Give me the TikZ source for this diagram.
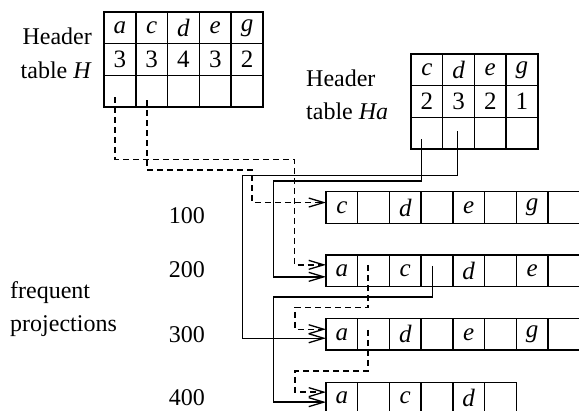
\documentclass[tikz,border=0pt]{standalone}
\usepackage{fontspec}
\setmainfont{Liberation Serif}
\usetikzlibrary{arrows.meta,calc}
\begin{document}
\begin{tikzpicture}[x=1pt,y=-1pt,
  cell/.style={draw, line width=1.4pt, minimum width=31.75pt, minimum height=31.7pt,
    inner sep=0pt, outer sep=0pt, anchor=north west, font=\fontsize{25}{25}\selectfont},
  icell/.style={cell, font=\fontsize{25}{25}\selectfont\itshape},
  lbl/.style={font=\fontsize{24}{24}\selectfont, inner sep=0pt},
  link/.style={line width=1.4pt, -{Straight Barb[length=15pt,width=9pt,line width=1.3pt]}},
  dlink/.style={link, dash pattern=on 6pt off 4pt}]
\useasboundingbox (0,0) rectangle (579,411);
\clip (0,0) rectangle (579,411);

% Header table H
\foreach \t [count=\i] in {a,c,d,e,g}
  \node[icell] (H-1-\i) at ({104+31.8*(\i-1)},12) {\t};
\foreach \t [count=\i] in {3,3,4,3,2}
  \node[cell] (H-2-\i) at ({104+31.8*(\i-1)},43.7) {\t};
\foreach \i in {1,...,5}
  \node[cell] (H-3-\i) at ({104+31.8*(\i-1)},75.4) {};
\node[lbl, anchor=base east] (hl1) at (92,45) {Header};
\node[lbl, anchor=base east] (hl2) at (92,78.3) {table \textit{H}};

% Header table Ha
\foreach \t [count=\i] in {c,d,e,g}
  \node[icell] (A-1-\i) at ({411+31.7*(\i-1)},54) {\t};
\foreach \t [count=\i] in {2,3,2,1}
  \node[cell] (A-2-\i) at ({411+31.7*(\i-1)},85.7) {\t};
\foreach \i in {1,...,4}
  \node[cell] (A-3-\i) at ({411+31.7*(\i-1)},117.4) {};
\node[lbl, anchor=base west] (al1) at (306,86.7) {Header};
\node[lbl, anchor=base west] (al2) at (306,120) {table \textit{Ha}};

% projection rows
\foreach \t [count=\i] in {c,{},d,{},e,{},g,{}}
  \node[icell] (R1-\i) at ({326+31.7*(\i-1)},191.7) {\t};
\foreach \t [count=\i] in {a,{},c,{},d,{},e,{}}
  \node[icell] (R2-\i) at ({326+31.7*(\i-1)},255) {\t};
\foreach \t [count=\i] in {a,{},d,{},e,{},g,{}}
  \node[icell] (R3-\i) at ({326+31.7*(\i-1)},318.4) {\t};
\foreach \t [count=\i] in {a,{},c,{},d,{}}
  \node[icell] (R4-\i) at ({326+31.7*(\i-1)},382.3) {\t};

\node[lbl, anchor=base east] (n1) at (205,223.3) {100};
\node[lbl, anchor=base east] (n2) at (205,277.3) {200};
\node[lbl, anchor=base east] (n3) at (205,342.7) {300};
\node[lbl, anchor=base east] (n4) at (205,406) {400};
\node[lbl, anchor=base west] (fp1) at (10,298.3) {frequent};
\node[lbl, anchor=base west] (fp2) at (10,331.7) {projections};

% connector start and end points
\coordinate (sH1) at ($(H-3-1.north west)+(11,22)$);
\coordinate (sH2) at ($(H-3-2.north west)+(11.2,25)$);
\coordinate (sA1) at ($(A-3-1.north west)+(10.7,22)$);
\coordinate (sA2) at ($(A-3-2.north west)+(14.8,14)$);
\coordinate (sR2) at ($(R2-2.north west)+(10.3,10)$);
\coordinate (sR2b) at ($(R2-4.north west)+(11.2,11)$);
\coordinate (sR3) at ($(R3-2.north west)+(10.3,11.5)$);

\coordinate (eR1d) at ($(R1-1.west)+(0,-5)$);
\coordinate (eR2d) at ($(R2-1.west)+(0,-6)$);
\coordinate (eR2s) at ($(R2-1.west)+(0,6)$);
\coordinate (eR3d) at ($(R3-1.west)+(0,-5)$);
\coordinate (eR3s) at ($(R3-1.west)+(0,4)$);
\coordinate (eR4d) at ($(R4-1.west)+(0,-6)$);
\coordinate (eR4s) at ($(R4-1.west)+(0,4)$);

\coordinate (b1) at (294.5,159.3);
\coordinate (b2) at (252,170);
\coordinate (b3) at (273.3,181);
\coordinate (b4) at (242.3,175.7);
\coordinate (b5) at (295,307.5);
\coordinate (b6) at (273.3,297);
\coordinate (b7) at (295,371);

% connectors
\draw[dlink] (sH1) |- (b1) |- (eR2d);
\draw[dlink] (sH2) |- (b2) |- (eR1d);
\draw[link] (sA1) |- (b3) |- (eR2s);
\draw[link] (sA2) |- (b4) |- (eR3s);
\draw[dlink] (sR2) |- (b5) |- (eR3d);
\draw[link] (sR2b) |- (b6) |- (eR4s);
\draw[dlink] (sR3) |- (b7) |- (eR4d);
\end{tikzpicture}
\end{document}
